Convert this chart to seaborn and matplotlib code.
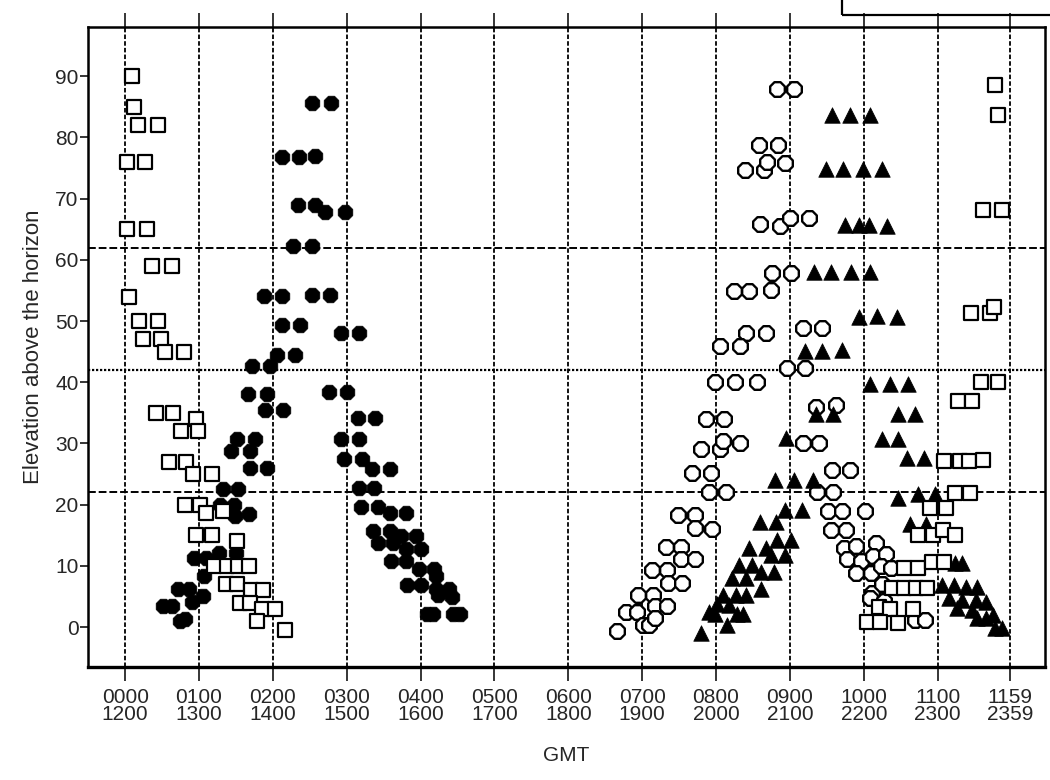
import matplotlib
matplotlib.use("Agg")
import matplotlib.pyplot as plt
from matplotlib.patches import Rectangle
import seaborn as sns
import pandas as pd

# Elevation vs GMT for four passes (hour of the 12-hour cycle, degrees)
sq_early_hr = [0.09, 0.12, 0.18, 0.44, 0.02, 0.27, 0.03, 0.29, 0.37, 0.63, 0.05, 0.19, 0.45, 0.24,
               0.49, 0.54, 0.80, 0.42, 0.65, 0.96, 0.75, 0.99, 0.59, 0.82, 0.92, 1.17, 0.81, 1.02,
               1.09, 1.32, 0.96, 1.17, 1.52, 1.20, 1.38, 1.53, 1.68, 1.37, 1.52, 1.71, 1.87, 1.55,
               1.69, 1.85, 2.03, 1.79, 2.17]
sq_early_el = [90, 85, 82, 82, 76, 76, 65, 65, 59, 59, 54, 50, 50, 47,
               47, 45, 45, 35, 35, 34, 32, 32, 27, 27, 25, 25, 20, 20,
               18.6, 19, 15, 15, 14, 10, 10, 10, 10, 7, 7, 6, 6, 4,
               4, 3, 3, 1, -0.5]

sq_late_hr = [11.78, 11.82, 11.61, 11.87, 11.45, 11.71, 11.76, 11.59, 11.82, 11.27, 11.47, 11.08,
              11.30, 11.43, 11.62, 11.24, 11.44, 10.89, 11.11, 10.74, 10.94, 11.07, 11.24, 10.54,
              10.74, 10.92, 11.08, 10.38, 10.55, 10.71, 10.86, 10.21, 10.35, 10.66, 10.05, 10.22,
              10.46]
sq_late_el = [88.5, 83.6, 68.1, 68.1, 51.4, 51.4, 52.3, 40, 40, 37, 37, 27.2,
              27.2, 27.2, 27.3, 21.9, 21.9, 19.5, 19.5, 15, 15, 15.8, 15, 9.6,
              9.6, 10.6, 10.6, 6.4, 6.4, 6.4, 6.4, 3.3, 3, 3, 0.8, 0.8,
              0.7]

dot_hr = [2.53, 2.79, 2.13, 2.36, 2.57, 2.34, 2.57, 2.71, 2.98, 2.27, 2.53, 1.88, 2.12, 2.53,
          2.78, 2.12, 2.37, 2.92, 3.17, 2.06, 2.30, 1.72, 1.96, 1.67, 1.92, 2.76, 3.01, 1.89,
          2.14, 3.15, 3.38, 1.52, 1.76, 1.44, 1.69, 2.92, 3.17, 1.69, 1.92, 2.96, 3.20, 3.34,
          3.59, 1.32, 1.53, 3.16, 3.37, 1.28, 1.48, 1.49, 1.68, 3.19, 3.42, 3.58, 3.80, 3.36,
          3.58, 3.43, 3.63, 3.74, 3.94, 3.80, 4.00, 3.60, 3.80, 3.98, 4.18, 4.21, 3.82, 4.01,
          4.21, 4.39, 4.23, 4.42, 4.08, 4.17, 4.44, 4.53, 0.93, 1.09, 1.27, 1.50, 1.07, 0.71,
          0.87, 1.05, 0.91, 0.51, 0.63, 0.74, 0.81]
dot_el = [85.7, 85.7, 76.8, 76.8, 76.9, 68.9, 68.9, 67.8, 67.8, 62.2, 62.2, 54.1, 54.1, 54.2,
          54.2, 49.3, 49.3, 48.1, 48.1, 44.5, 44.5, 42.7, 42.7, 38.1, 38.1, 38.4, 38.4, 35.4,
          35.4, 34.2, 34.2, 30.8, 30.8, 28.8, 28.8, 30.8, 30.8, 26, 26, 27.5, 27.5, 25.8,
          25.8, 22.6, 22.6, 22.8, 22.8, 20, 20, 18.2, 18.4, 19.7, 19.7, 18.6, 18.6, 15.7,
          15.7, 13.7, 13.7, 14.9, 14.9, 12.8, 12.8, 10.8, 10.8, 9.5, 9.5, 8.4, 6.8, 6.8,
          6.3, 6.3, 5.2, 4.9, 2.2, 2.2, 2.2, 2.2, 11.3, 11.3, 12.1, 12.1, 8.3, 6.3,
          6.2, 5.1, 4.1, 3.4, 3.4, 1.0, 1.3]

ring_hr = [8.82, 9.06, 8.58, 8.84, 8.39, 8.65, 8.69, 8.94, 8.60, 8.86, 9.00, 9.26, 8.76, 9.02,
           8.24, 8.44, 8.74, 8.41, 8.67, 9.18, 9.44, 8.06, 8.32, 8.96, 9.20, 7.99, 8.25, 8.55,
           9.35, 9.62, 7.86, 8.11, 7.80, 8.05, 8.10, 8.33, 9.18, 9.40, 7.68, 7.93, 9.57, 9.81,
           7.91, 8.14, 9.36, 9.59, 7.48, 7.71, 7.72, 7.95, 9.51, 9.71, 10.01, 9.56, 9.76, 7.32,
           7.53, 7.53, 7.72, 9.73, 9.90, 10.17, 9.77, 9.96, 10.13, 10.30, 7.13, 7.33, 7.35, 7.54,
           9.89, 10.10, 10.23, 10.37, 6.95, 7.14, 7.17, 7.33, 10.11, 10.25, 10.08, 10.28, 6.78, 6.93,
           7.01, 7.09, 7.17, 6.66, 10.69, 10.83]
ring_el = [87.9, 88, 78.8, 78.8, 74.7, 74.7, 76, 75.9, 65.9, 65.6, 66.8, 66.8, 57.9, 57.9,
           54.9, 54.9, 55, 48.1, 48.1, 48.8, 48.8, 45.9, 45.9, 42.3, 42.3, 40, 40, 40.1,
           36, 36.3, 34, 34, 29.1, 29.1, 30.4, 30, 30.1, 30, 25.2, 25.2, 25.7, 25.7,
           22.1, 22.1, 22, 22, 18.3, 18.3, 16.2, 16.1, 18.9, 18.9, 18.9, 15.9, 15.9, 13.1,
           13.1, 11.1, 11.1, 12.9, 13.2, 13.7, 11.1, 10.8, 11.6, 12, 9.3, 9.3, 7.2, 7.2,
           8.8, 8.8, 10, 9.7, 5.2, 5.2, 3.4, 3.4, 5.6, 7.1, 4.8, 4.3, 2.4, 2.4,
           0.3, 0.3, 1.5, -0.7, 1.1, 1.1]

tri_hr = [9.57, 9.82, 10.09, 9.49, 9.72, 9.99, 10.24, 9.74, 9.94, 10.07, 10.32, 9.32, 9.56, 9.83,
          10.09, 9.94, 10.18, 10.45, 9.20, 9.43, 9.70, 10.09, 10.36, 10.60, 9.35, 9.58, 10.46, 10.69,
          10.24, 10.47, 8.95, 10.58, 10.82, 8.80, 9.06, 9.31, 10.46, 10.73, 10.96, 8.94, 9.17, 10.63,
          10.84, 8.59, 8.81, 8.45, 8.67, 8.82, 9.02, 8.74, 8.94, 8.31, 8.48, 8.61, 8.78, 8.22,
          8.41, 8.09, 8.27, 8.41, 8.61, 8.01, 8.18, 7.91, 7.98, 8.28, 8.36, 8.15, 7.80, 11.24,
          11.33, 11.06, 11.22, 11.39, 11.53, 11.16, 11.33, 11.52, 11.66, 11.26, 11.46, 11.53, 11.66, 11.75,
          11.77, 11.87]
tri_el = [83.6, 83.7, 83.7, 74.8, 74.8, 74.9, 74.9, 65.7, 65.7, 65.7, 65.6, 58, 58, 58,
          58.1, 50.6, 50.8, 50.6, 45.1, 45.1, 45.2, 39.8, 39.8, 39.7, 34.8, 34.8, 34.8, 34.8,
          30.7, 30.7, 30.9, 27.7, 27.7, 24, 24, 24.1, 21.1, 21.8, 21.8, 19.1, 19.1, 16.9,
          16.9, 17.1, 17.1, 13, 13, 14.2, 14.2, 11.8, 11.8, 10.1, 10.1, 9, 9, 8.1,
          8.1, 5.3, 5.3, 5.3, 6.2, 3.7, 3.6, 2.4, 2.1, 2.1, 2.1, 0.3, -0.9, 10.5,
          10.5, 6.8, 6.8, 6.6, 6.6, 4.7, 4.4, 4.4, 4.1, 3.1, 2.8, 1.5, 1.5, 2,
          -0.1, -0.1]

tick_hr = [0, 1, 2, 3, 4, 5, 6, 7, 8, 9, 10, 11, 11.983]
tick_labels = ["0000\n1200", "0100\n1300", "0200\n1400", "0300\n1500", "0400\n1600",
               "0500\n1700", "0600\n1800", "0700\n1900", "0800\n2000", "0900\n2100",
               "1000\n2200", "1100\n2300", "1159\n2359"]
ref_levels = [62, 42, 22]

sns.set_theme(style="white")
plt.rcParams['font.family'] = ['Liberation Sans', 'DejaVu Sans']

fig = plt.figure(figsize=(10.5, 7.8), dpi=100)
ax = fig.add_axes([0.084, 0.145, 0.911, 0.82])

# grid: dotted hour lines, dashed/dotted elevation reference lines
for t in tick_hr:
    ax.axvline(t, color="black", lw=1.3, ls=(0, (2.5, 1.2)), zorder=1)
ax.axhline(ref_levels[0], color="black", lw=1.4, ls=(0, (4, 1.5)), zorder=1)
ax.axhline(ref_levels[1], color="black", lw=1.6, ls=(0, (1, 0.8)), zorder=1)
ax.axhline(ref_levels[2], color="black", lw=1.4, ls=(0, (4, 1.5)), zorder=1)

df_dot = pd.DataFrame({"hr": dot_hr, "el": dot_el})
df_ring = pd.DataFrame({"hr": ring_hr, "el": ring_el})
df_tri = pd.DataFrame({"hr": tri_hr, "el": tri_el})
df_sq = pd.DataFrame({"hr": sq_early_hr + sq_late_hr, "el": sq_early_el + sq_late_el})

sns.scatterplot(data=df_dot, x="hr", y="el", ax=ax, marker="8", s=130,
                color="black", edgecolor="black", linewidth=0.5, zorder=3)
sns.scatterplot(data=df_ring, x="hr", y="el", ax=ax, marker="8", s=130,
                color="white", edgecolor="black", linewidth=1.7, zorder=4)
sns.scatterplot(data=df_tri, x="hr", y="el", ax=ax, marker="^", s=125,
                color="black", edgecolor="black", linewidth=0.5, zorder=5)
sns.scatterplot(data=df_sq, x="hr", y="el", ax=ax, marker="s", s=100,
                color="white", edgecolor="black", linewidth=1.6, zorder=6)

ax.set_xlim(-0.5, 12.45)
ax.set_ylim(-6.5, 98)
ax.set_xticks(tick_hr)
ax.set_xticklabels(tick_labels, fontsize=15, linespacing=0.9)
ax.set_yticks(range(0, 91, 10))
ax.tick_params(axis="y", labelsize=15, direction="out", length=6, width=1.3, left=True, pad=1)
ax.tick_params(axis="x", direction="out", length=10, width=1.3, bottom=True, top=True, pad=5)

for sp in ax.spines.values():
    sp.set_color("black")
    sp.set_linewidth(1.8)
ax.spines["bottom"].set_linewidth(2.4)

ax.set_xlabel("GMT", fontsize=15, labelpad=16)
ax.set_ylabel("Elevation above the horizon", fontsize=16, labelpad=8)

# cropped legend frame at top right
fig.add_artist(Rectangle((842 / 1050, 1 - 15 / 780), 0.3, 0.1, transform=fig.transFigure,
                         fill=False, lw=1.6, edgecolor="black", clip_on=False))

fig.savefig("out.png", dpi=100, facecolor="white")
